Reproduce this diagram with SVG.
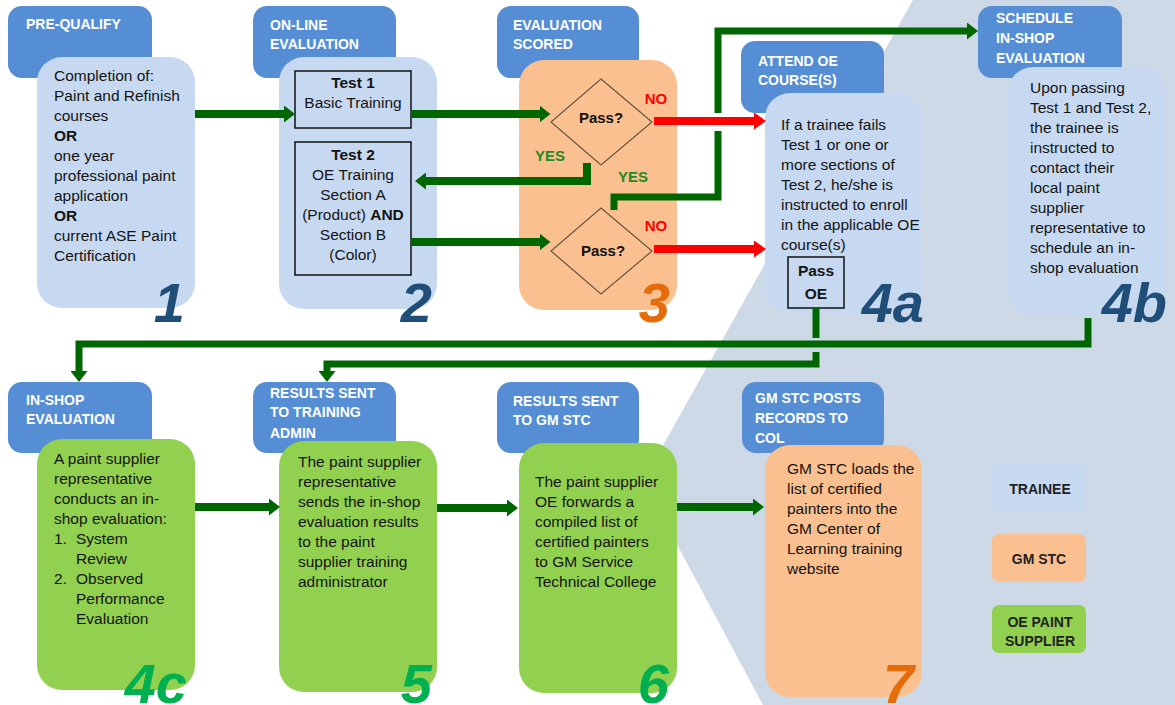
<svg xmlns="http://www.w3.org/2000/svg" width="1175" height="705" viewBox="0 0 1175 705">
<style>
.hdr{fill:#558ED5}
.tb{fill:#C6D9F1}
.gs{fill:#FAC090}
.op{fill:#92D050}
.ht{font-family:"Liberation Sans",Arial,sans-serif;font-weight:bold;font-size:14px;fill:#ffffff}
.bt{font-family:"Liberation Sans",Arial,sans-serif;font-size:15.5px;fill:#141414}
.bc{text-anchor:middle}
.b{font-weight:bold}
.num{font-family:"Liberation Sans",Arial,sans-serif;font-weight:bold;font-style:italic;font-size:56px;text-anchor:end}
.nb{fill:#1F4E79}
.ng{fill:#00B050}
.no{fill:#E46C0A}
.box{fill:#C6D9F1;stroke:#111;stroke-width:1.5}
.dia{fill:none;stroke:#6b5540;stroke-width:1.2}
.g{fill:none;stroke:#006600;stroke-width:8}
.g7{fill:none;stroke:#006600;stroke-width:7}
.r{fill:none;stroke:#FF0000;stroke-width:8}
.lab{font-family:"Liberation Sans",Arial,sans-serif;font-weight:bold;font-size:15px;text-anchor:middle}
.lg{font-family:"Liberation Sans",Arial,sans-serif;font-weight:bold;font-size:14px;fill:#222;text-anchor:middle}
</style>
<defs>
<marker id="ag" markerUnits="userSpaceOnUse" viewBox="0 0 11 17" markerWidth="11" markerHeight="17" refX="0.5" refY="8.5" orient="auto"><path d="M0,0 L11,8.5 L0,17 z" fill="#006600"/></marker>
<marker id="ar" markerUnits="userSpaceOnUse" viewBox="0 0 12 17" markerWidth="12" markerHeight="17" refX="0.5" refY="8.5" orient="auto"><path d="M0,0 L12,8.5 L0,17 z" fill="#FF0000"/></marker>
</defs>
<rect width="1175" height="705" fill="#ffffff"/>
<polygon points="913,0 1175,0 1175,705 763,705 643,481" fill="#CDD9E7"/>

<g id="node-1">
<rect class="hdr" x="8" y="6" width="144" height="72" rx="14"/>
<text class="ht" x="26" y="29">PRE-QUALIFY</text>
<rect class="tb" x="37" y="57" width="158" height="251" rx="25"/>
<text class="bt" x="54" y="81">Completion of:</text>
<text class="bt" x="54" y="101">Paint and Refinish</text>
<text class="bt" x="54" y="121">courses</text>
<text class="bt b" x="54" y="141">OR</text>
<text class="bt" x="54" y="161">one year</text>
<text class="bt" x="54" y="181">professional paint</text>
<text class="bt" x="54" y="201">application</text>
<text class="bt b" x="54" y="221">OR</text>
<text class="bt" x="54" y="241">current ASE Paint</text>
<text class="bt" x="54" y="261">Certification</text>
<text class="num nb" x="185" y="322">1</text>
</g>

<g id="node-2">
<rect class="hdr" x="253" y="6" width="143" height="72" rx="14"/>
<text class="ht" x="270" y="30">ON-LINE</text>
<text class="ht" x="270" y="49">EVALUATION</text>
<rect class="tb" x="279" y="57" width="158" height="252" rx="25"/>
<rect class="box" x="295" y="71" width="116" height="57"/>
<text class="bt bc b" x="353" y="88">Test 1</text>
<text class="bt bc" x="353" y="108">Basic Training</text>
<rect class="box" x="295" y="142" width="116" height="133"/>
<text class="bt bc b" x="353" y="160">Test 2</text>
<text class="bt bc" x="353" y="180">OE Training</text>
<text class="bt bc" x="353" y="200">Section A</text>
<text class="bt bc" x="353" y="220">(Product) <tspan class="b">AND</tspan></text>
<text class="bt bc" x="353" y="240">Section B</text>
<text class="bt bc" x="353" y="260">(Color)</text>
<text class="num nb" x="432" y="322">2</text>
</g>

<g id="node-3">
<rect class="hdr" x="497" y="6" width="142" height="72" rx="14"/>
<text class="ht" x="513" y="30">EVALUATION</text>
<text class="ht" x="513" y="49">SCORED</text>
<rect class="gs" x="519" y="60" width="158" height="250" rx="25"/>
<polygon class="dia" points="601,79 652,122 601,165 551,122"/>
<text class="lab" x="601" y="123" fill="#111">Pass?</text>
<polygon class="dia" points="601,208 652,251 601,294 551,251"/>
<text class="lab" x="603" y="256" fill="#111">Pass?</text>
<text class="num no" x="670" y="322">3</text>
</g>

<g id="node-4a">
<rect class="hdr" x="741" y="41" width="143" height="72" rx="14"/>
<text class="ht" x="758" y="66">ATTEND OE</text>
<text class="ht" x="758" y="85">COURSE(S)</text>
<rect class="tb" x="765" y="93" width="157" height="220" rx="25"/>
<text class="bt" x="781" y="130">If a trainee fails</text>
<text class="bt" x="781" y="150">Test 1 or one or</text>
<text class="bt" x="781" y="170">more sections of</text>
<text class="bt" x="781" y="190">Test 2, he/she is</text>
<text class="bt" x="781" y="210">instructed to enroll</text>
<text class="bt" x="781" y="230">in the applicable OE</text>
<text class="bt" x="781" y="250">course(s)</text>
<rect class="box" x="788" y="257" width="56" height="51"/>
<text class="bt bc b" x="816" y="276">Pass</text>
<text class="bt bc b" x="816" y="299">OE</text>
<text class="num nb" x="924" y="322">4a</text>
</g>

<g id="node-4b">
<rect class="hdr" x="978" y="6" width="144" height="72" rx="14"/>
<text class="ht" x="996" y="23">SCHEDULE</text>
<text class="ht" x="996" y="43">IN-SHOP</text>
<text class="ht" x="996" y="63">EVALUATION</text>
<rect class="tb" x="1008" y="67" width="157" height="249" rx="25"/>
<text class="bt" x="1030" y="93">Upon passing</text>
<text class="bt" x="1030" y="113">Test 1 and Test 2,</text>
<text class="bt" x="1030" y="133">the trainee is</text>
<text class="bt" x="1030" y="153">instructed to</text>
<text class="bt" x="1030" y="173">contact their</text>
<text class="bt" x="1030" y="193">local paint</text>
<text class="bt" x="1030" y="213">supplier</text>
<text class="bt" x="1030" y="233">representative to</text>
<text class="bt" x="1030" y="253">schedule an in-</text>
<text class="bt" x="1030" y="273">shop evaluation</text>
<text class="num nb" x="1167" y="322">4b</text>
</g>

<g id="node-4c">
<rect class="hdr" x="8" y="382" width="144" height="71" rx="14"/>
<text class="ht" x="26" y="405">IN-SHOP</text>
<text class="ht" x="26" y="424">EVALUATION</text>
<rect class="op" x="37" y="439" width="158" height="251" rx="25"/>
<text class="bt" x="54" y="464">A paint supplier</text>
<text class="bt" x="54" y="484">representative</text>
<text class="bt" x="54" y="504">conducts an in-</text>
<text class="bt" x="54" y="524">shop evaluation:</text>
<text class="bt" x="54" y="544">1.</text>
<text class="bt" x="76" y="544">System</text>
<text class="bt" x="76" y="564">Review</text>
<text class="bt" x="54" y="584">2.</text>
<text class="bt" x="76" y="584">Observed</text>
<text class="bt" x="76" y="604">Performance</text>
<text class="bt" x="76" y="624">Evaluation</text>
<text class="num ng" x="187" y="703">4c</text>
</g>

<g id="node-5">
<rect class="hdr" x="253" y="382" width="143" height="71" rx="14"/>
<text class="ht" x="270" y="398">RESULTS SENT</text>
<text class="ht" x="270" y="417">TO TRAINING</text>
<text class="ht" x="270" y="438">ADMIN</text>
<rect class="op" x="279" y="441" width="158" height="251" rx="25"/>
<text class="bt" x="298" y="467">The paint supplier</text>
<text class="bt" x="298" y="487">representative</text>
<text class="bt" x="298" y="507">sends the in-shop</text>
<text class="bt" x="298" y="527">evaluation results</text>
<text class="bt" x="298" y="547">to the paint</text>
<text class="bt" x="298" y="567">supplier training</text>
<text class="bt" x="298" y="587">administrator</text>
<text class="num ng" x="432" y="703">5</text>
</g>

<g id="node-6">
<rect class="hdr" x="497" y="382" width="142" height="71" rx="14"/>
<text class="ht" x="513" y="406">RESULTS SENT</text>
<text class="ht" x="513" y="425">TO GM STC</text>
<rect class="op" x="519" y="443" width="158" height="250" rx="25"/>
<text class="bt" x="535" y="487">The paint supplier</text>
<text class="bt" x="535" y="507">OE forwards a</text>
<text class="bt" x="535" y="527">compiled list of</text>
<text class="bt" x="535" y="547">certified painters</text>
<text class="bt" x="535" y="567">to GM Service</text>
<text class="bt" x="535" y="587">Technical College</text>
<text class="num ng" x="669" y="703">6</text>
</g>

<g id="node-7">
<rect class="hdr" x="742" y="382" width="142" height="71" rx="14"/>
<text class="ht" x="755" y="403">GM STC POSTS</text>
<text class="ht" x="755" y="423">RECORDS TO</text>
<text class="ht" x="755" y="443">COL</text>
<rect class="gs" x="765" y="445" width="157" height="252" rx="25"/>
<text class="bt" x="787" y="474">GM STC loads the</text>
<text class="bt" x="787" y="494">list of certified</text>
<text class="bt" x="787" y="514">painters into the</text>
<text class="bt" x="787" y="534">GM Center of</text>
<text class="bt" x="787" y="554">Learning training</text>
<text class="bt" x="787" y="574">website</text>
<text class="num no" x="914" y="703">7</text>
</g>

<g id="legend">
<rect class="tb" x="992" y="463" width="94" height="49" rx="7"/>
<text class="lg" x="1040" y="494">TRAINEE</text>
<rect class="gs" x="992" y="534" width="94" height="48" rx="7"/>
<text class="lg" x="1039" y="564">GM STC</text>
<rect class="op" x="992" y="605" width="94" height="48" rx="7"/>
<text class="lg" x="1040" y="627">OE PAINT</text>
<text class="lg" x="1040" y="646">SUPPLIER</text>
</g>

<g id="connectors">
<path class="g" d="M195,114 H284.5" marker-end="url(#ag)"/>
<path class="g" d="M411,114 H540" marker-end="url(#ag)"/>
<path class="g" d="M587,163 V181 H425.5" marker-end="url(#ag)"/>
<path class="g" d="M411,242 H540" marker-end="url(#ag)"/>
<path class="r" d="M654,121 H754.5" marker-end="url(#ar)"/>
<path class="r" d="M654,249 H754.5" marker-end="url(#ar)"/>
<path class="g7" d="M614,210 V197 H718 V131 M718,113 V31 H967.5" marker-end="url(#ag)"/>
<path class="g7" d="M1088,318 V344 H79 V371.5" marker-end="url(#ag)"/>
<path class="g7" d="M816,308 V338 M816,352 V364 H327 V371.5" marker-end="url(#ag)"/>
<path class="g" d="M195,507 H269.5" marker-end="url(#ag)"/>
<path class="g" d="M437,508 H507.5" marker-end="url(#ag)"/>
<path class="g" d="M677,507 H753.5" marker-end="url(#ag)"/>
<text class="lab" x="656" y="104" fill="#FF0000">NO</text>
<text class="lab" x="656" y="231" fill="#FF0000">NO</text>
<text class="lab" x="550" y="161" fill="#1E8C1E">YES</text>
<text class="lab" x="633" y="182" fill="#1E8C1E">YES</text>
</g>
</svg>
